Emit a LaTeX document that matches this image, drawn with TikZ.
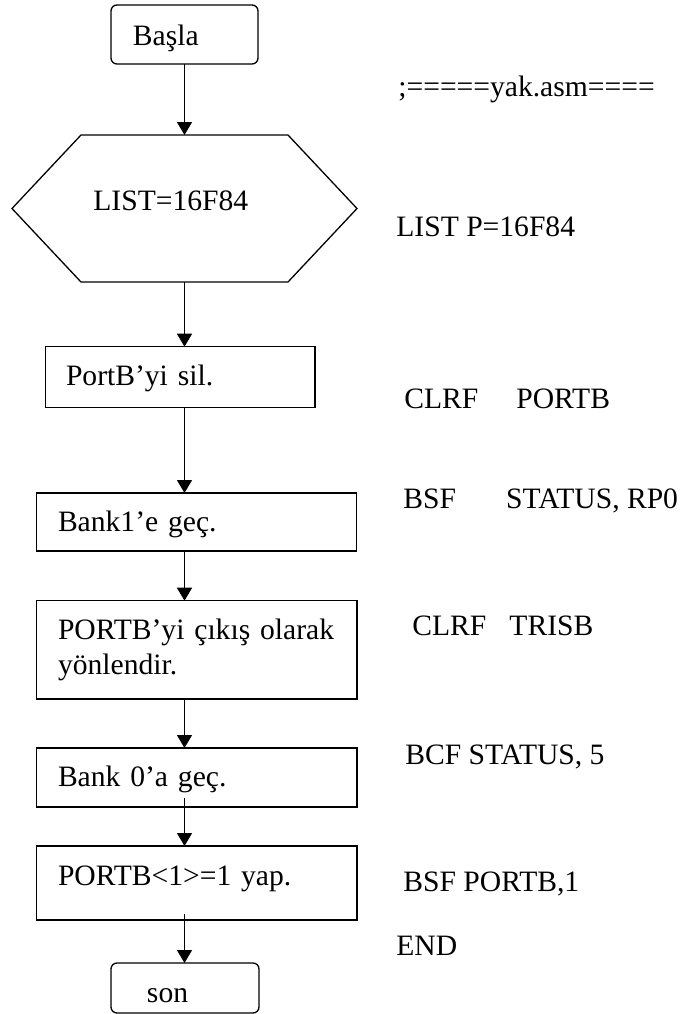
\documentclass[tikz,border=0pt]{standalone}
\usepackage{fontspec}
\setmainfont{Liberation Serif}
\usetikzlibrary{arrows.meta,calc}
\begin{document}
\begin{tikzpicture}[x=0.5pt,y=-0.5pt]
\tikzset{
  txt/.style={font=\fontsize{14.8}{17.5}\selectfont},
  flowbox/.style={draw, line width=0.65pt, rectangle, inner ysep=0pt, outer sep=0pt, align=left, txt},
  termbox/.style={flowbox, rounded corners=3pt},
  flow/.style={line width=0.7pt, -{Triangle[width=7.5pt,length=6.5pt]}},
  code/.style={txt, anchor=base west, inner sep=0pt},
}
\useasboundingbox (0,0) rectangle (690,1014);
\clip (0,0) rectangle (690,1014);

% flowchart blocks
\node[termbox, minimum height=29.5pt, text width=51.5pt, inner xsep=11pt,
      text height=14pt, text depth=3.5pt] (start) at (184.5,34.5) {Başla};

\node[minimum width=172.5pt, minimum height=73.5pt, inner sep=0pt, outer sep=0pt] (hex) at (184.5,208.5) {};
\draw[line width=0.65pt] (hex.west) -- ([xshift=34.5pt]hex.north west) -- ([xshift=-34.5pt]hex.north east)
  -- (hex.east) -- ([xshift=-34.5pt]hex.south east) -- ([xshift=34.5pt]hex.south west) -- cycle;
\node[code] (hexlabel) at (93,210) {LIST=16F84};

\node[flowbox, minimum height=30.5pt, text width=114.35pt, inner xsep=10.15pt,
      text height=11.5pt, text depth=3.5pt] (pb) at (180.35,377.2) {PortB’yi sil.};
\node[flowbox, minimum height=29pt, text width=138.7pt, inner xsep=10.65pt,
      text height=13.2pt, text depth=3.5pt] (b1) at (196.7,522) {Bank1’e geç.};
\node[flowbox, minimum height=49.15pt, text width=138.85pt, inner xsep=10.65pt]
      (out) at (196.85,649.85) {PORTB’yi çıkış olarak\\yönlendir.};
\node[flowbox, minimum height=29.5pt, text width=138.85pt, inner xsep=10.65pt,
      text height=12.5pt, text depth=3.5pt] (b0) at (196.85,777.5) {Bank 0’a geç.};
\node[flowbox, minimum height=37pt, text width=138.85pt, inner xsep=10.65pt,
      text height=5.5pt, text depth=3.5pt] (p1) at (196.85,883) {PORTB<1>=1 yap.};
\node[termbox, minimum height=25pt, text width=38pt, inner xsep=18pt,
      text height=17.5pt, text depth=3.5pt] (son) at (185,988) {son};

% connectors
\draw[flow] (start.south) -- (start.south |- hex.north);
\draw[flow] (hex.south) -- (hex.south |- pb.north);
\draw[flow] (hex.south |- pb.south) -- (hex.south |- b1.north);
\draw[flow] (hex.south |- b1.south) -- (hex.south |- out.north);
\draw[flow] (hex.south |- out.south) -- (hex.south |- b0.north);
\draw[flow] ($(hex.south |- b0.south)+(0,-9)$) -- (hex.south |- p1.north);
\draw[flow] ($(hex.south |- p1.south)+(0,-6)$) -- (hex.south |- son.north);

% assembly listing
\node[code] (c0) at (398,96.7) {;=====yak.asm====};
\node[code] (c1) at (396,236) {LIST P=16F84};
\node[code] (c2) at (404,408) {CLRF\hspace{19pt}PORTB};
\node[code] (c3) at (403,508.3) {BSF\hspace{25pt}STATUS, RP0};
\node[code] (c4) at (412,635) {CLRF\hspace{11.5pt}TRISB};
\node[code] (c5) at (405,764) {BCF STATUS, 5};
\node[code] (c6) at (403,891.7) {BSF PORTB,1};
\node[code] (c7) at (396,955) {END};
\end{tikzpicture}
\end{document}
